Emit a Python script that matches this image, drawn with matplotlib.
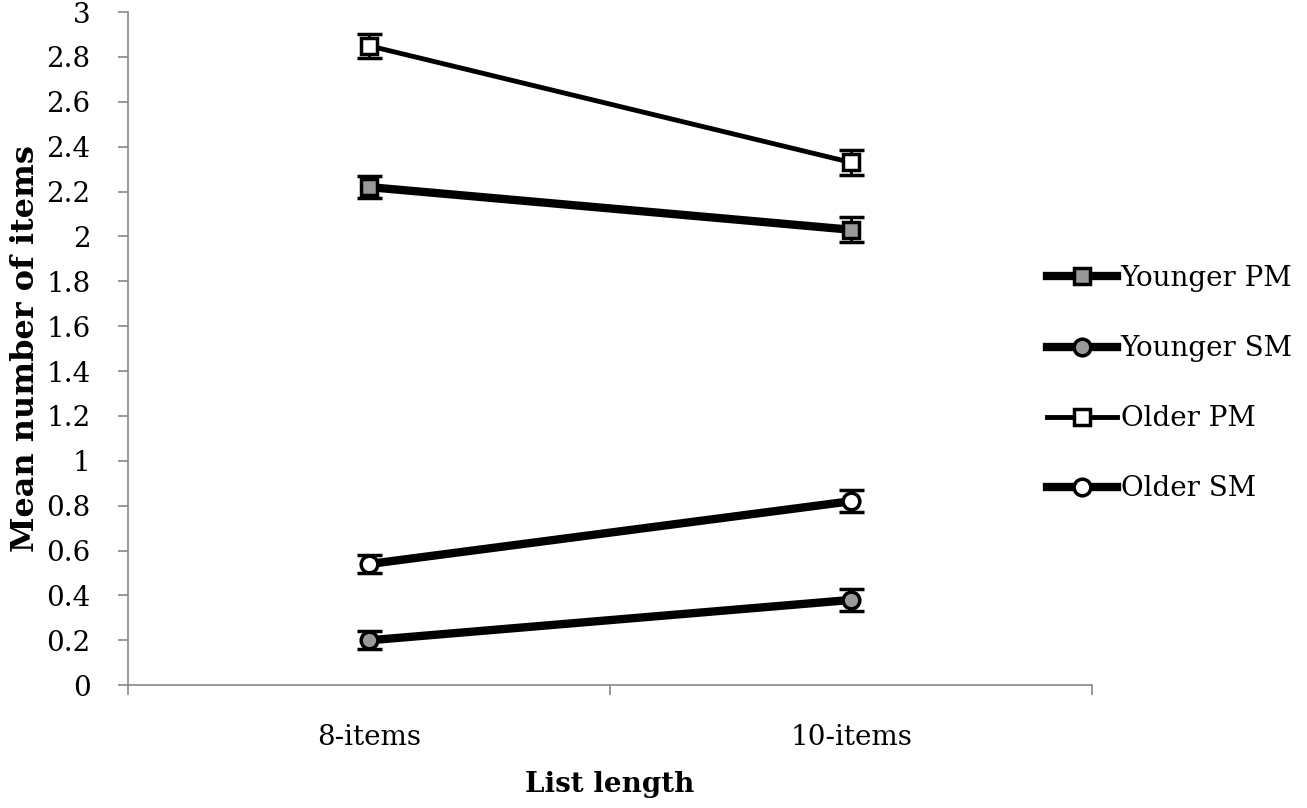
import numpy as np
import matplotlib.pyplot as plt
from matplotlib.ticker import FixedLocator
from matplotlib.lines import Line2D

plt.rcParams['font.family'] = ['DejaVu Serif']

categories = ['8-items', '10-items']
series = ['Younger PM', 'Younger SM', 'Older PM', 'Older SM']
younger_pm = [2.22, 2.03]
younger_sm = [0.20, 0.38]
older_pm = [2.85, 2.33]
older_sm = [0.54, 0.82]
younger_pm_err = [0.05, 0.055]
younger_sm_err = [0.04, 0.05]
older_pm_err = [0.053, 0.055]
older_sm_err = [0.04, 0.05]
yticks = np.arange(0, 3.01, 0.2)

fig = plt.figure(figsize=(13.07, 8.08), dpi=100)
ax = fig.add_axes([0.098, 0.152, 0.7375, 0.833])

x = np.arange(len(categories))
styles = [
    (younger_pm, younger_pm_err, 's', '#999999', 6),
    (younger_sm, younger_sm_err, 'o', '#999999', 6),
    (older_pm, older_pm_err, 's', 'white', 3.5),
    (older_sm, older_sm_err, 'o', 'white', 6),
]
handles = []
for name, (vals, err, mk, fc, lw) in zip(series, styles):
    ax.errorbar(x, vals, yerr=err, color='black', lw=lw, marker=mk, ms=12,
                mfc=fc, mec='black', mew=2.5, ecolor='black', elinewidth=2,
                capsize=9, capthick=2.5)
    handles.append(Line2D([], [], color='black', lw=lw, marker=mk, ms=12,
                          mfc=fc, mec='black', mew=2.5, label=name))

ax.set_xlim(-0.5, 1.5)
ax.set_ylim(0, 3)
ax.set_yticks(yticks)
ax.set_yticklabels([('%.1f' % v).rstrip('0').rstrip('.') for v in yticks])
ax.set_xticks(x)
ax.set_xticklabels(categories)
ax.xaxis.set_minor_locator(FixedLocator([-0.5, 0.5, 1.5]))
ax.tick_params(axis='x', which='major', length=0, pad=28, labelsize=20)
ax.tick_params(axis='x', which='minor', length=7, color='#888888', width=1.2)
ax.tick_params(axis='y', length=7, color='#888888', width=1.2, labelsize=20, pad=20)
for s in ['top', 'right']:
    ax.spines[s].set_visible(False)
for s in ['left', 'bottom']:
    ax.spines[s].set_color('#888888')
    ax.spines[s].set_linewidth(1.2)

ax.set_xlabel('List length', fontsize=20, fontweight='bold', labelpad=14)
ax.set_ylabel('Mean number of items', fontsize=23, fontweight='bold', labelpad=4)

ax.legend(handles=handles, loc='center left', bbox_to_anchor=(0.782, 0.525),
          bbox_transform=fig.transFigure, frameon=False, fontsize=20,
          handlelength=2.5, handletextpad=0.15, labelspacing=1.55)

fig.savefig('out.png', dpi=100)
